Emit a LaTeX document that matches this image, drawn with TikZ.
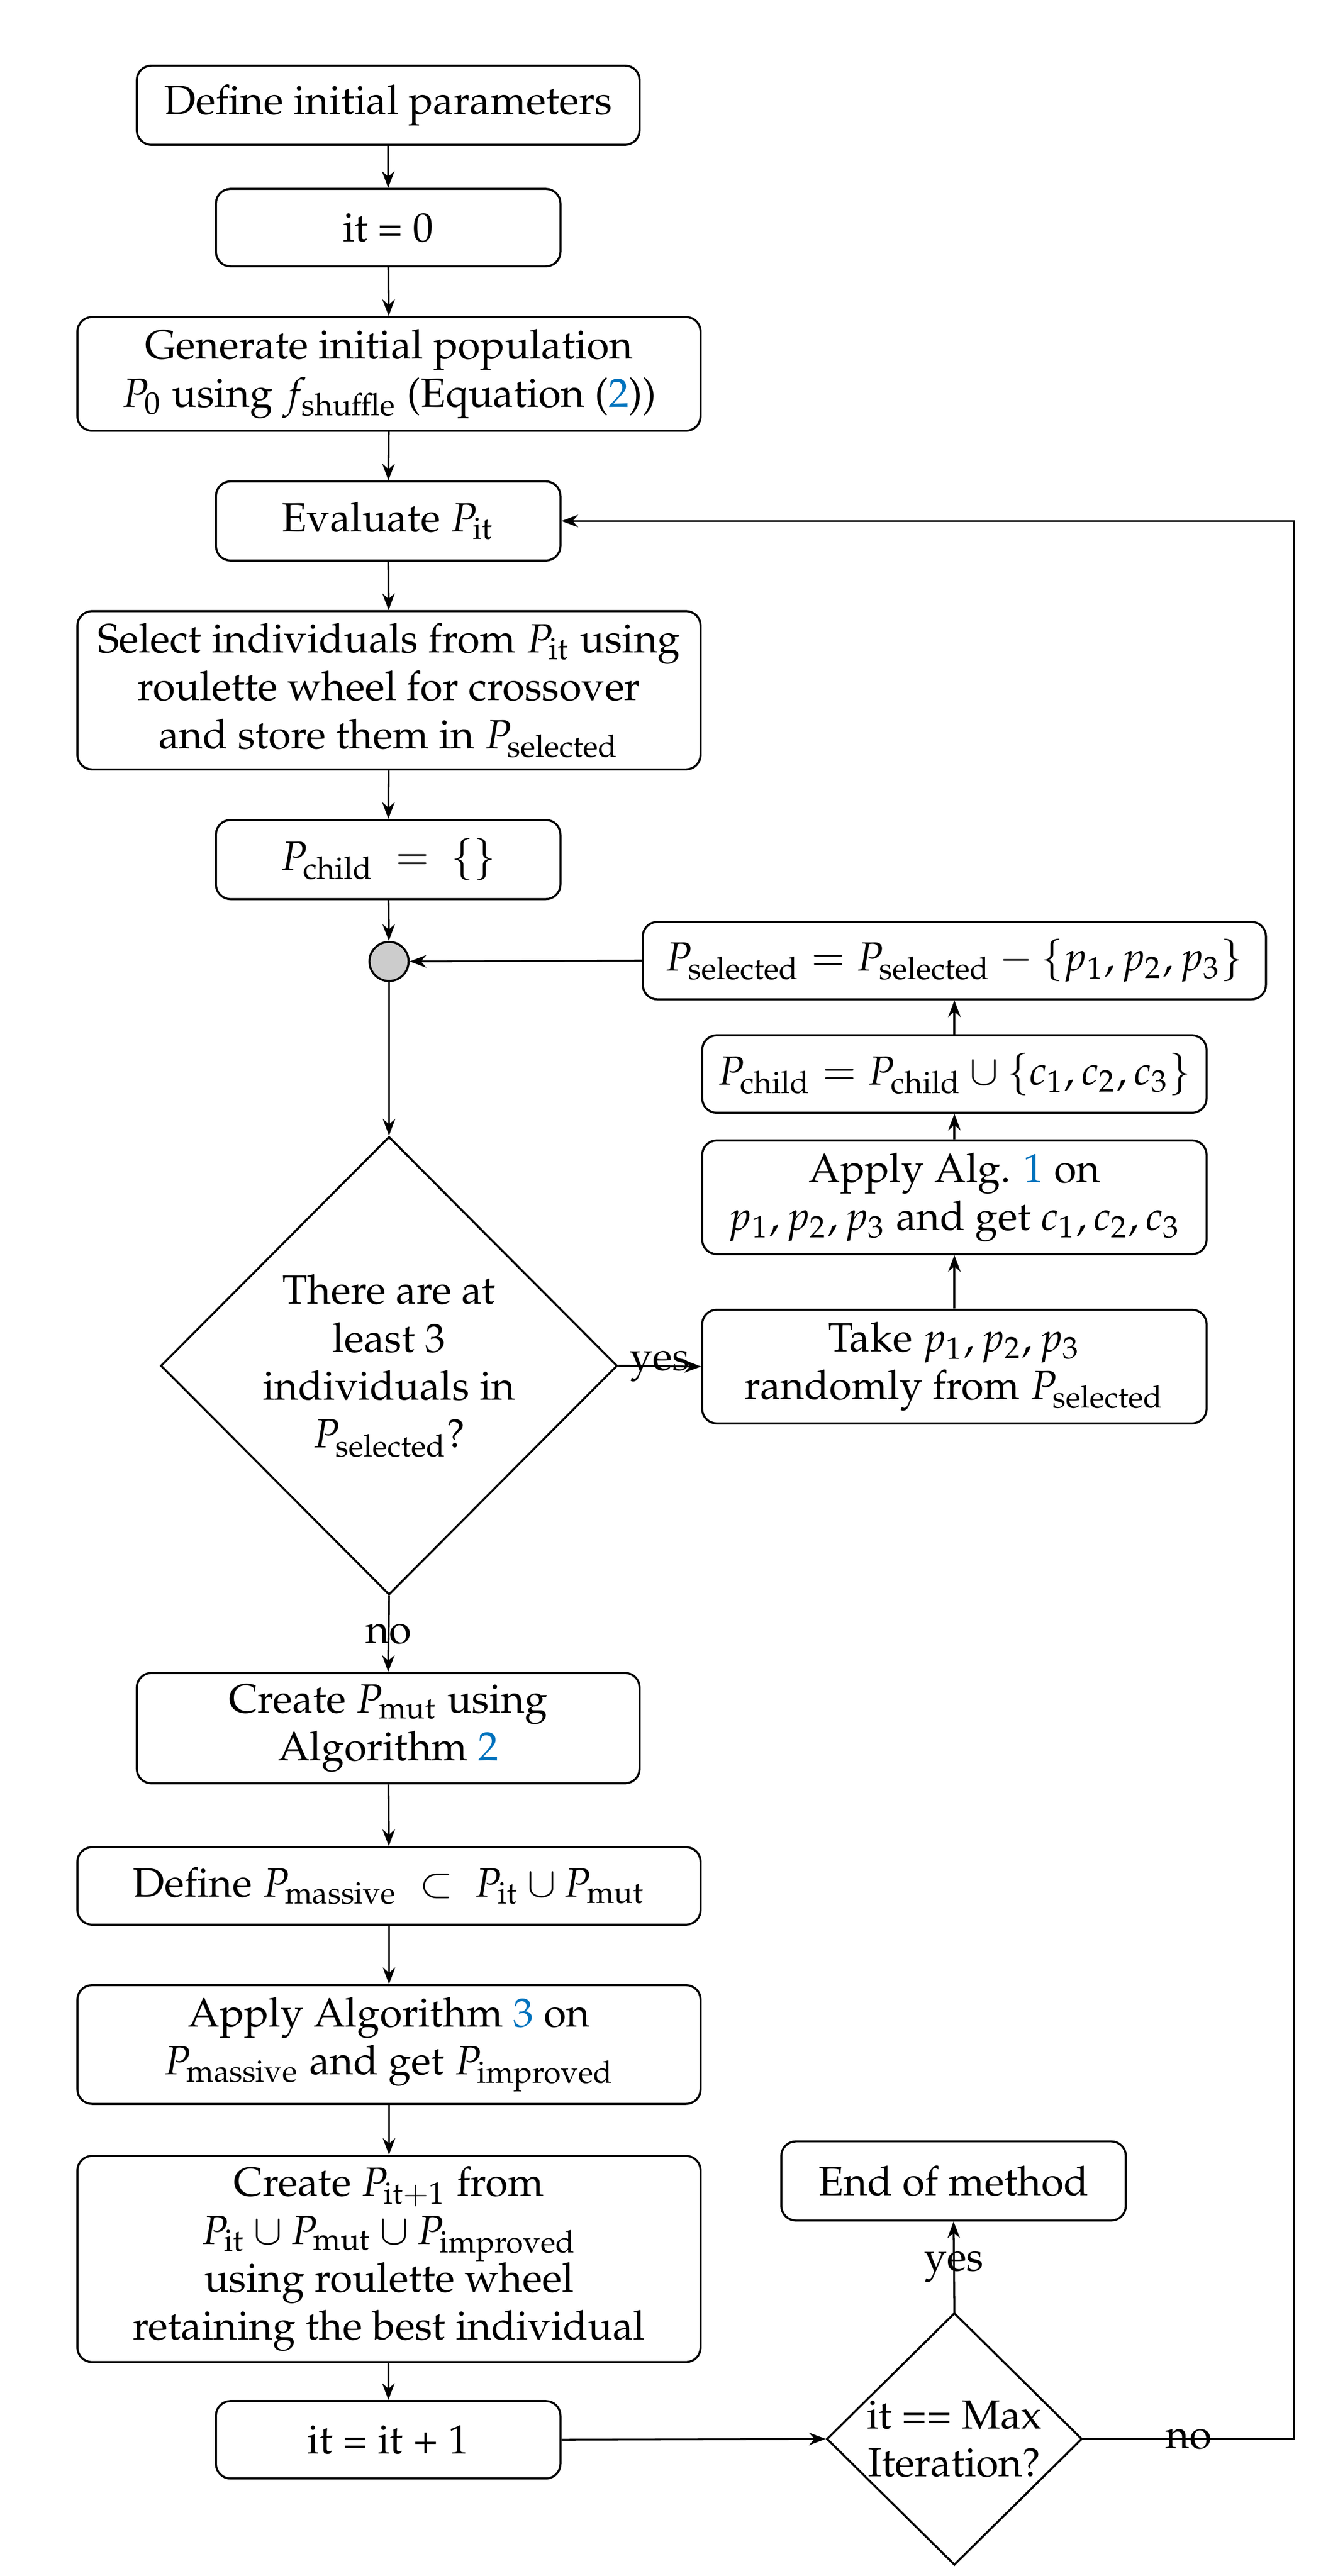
\documentclass[tikz,border=0pt]{standalone}
\usepackage[T1]{fontenc}
\usepackage{mathpazo}
\usetikzlibrary{shapes.geometric, arrows.meta}
\definecolor{refblue}{RGB}{0,114,189}
\begin{document}
\begin{tikzpicture}[x=0.3957pt, y=-0.3957pt,
  every node/.style={font=\fontsize{9.8}{11.5}\selectfont},
  box/.style={draw, rounded corners=3.5pt, align=center, inner sep=0pt, line width=0.5pt},
  arr/.style={-{Stealth[length=4pt,width=3pt]}, line width=0.45pt},
  dia/.style={draw, diamond, align=center, inner sep=0pt, line width=0.5pt}]
\useasboundingbox (0,0) rectangle (808.7,1563);
\begin{scope}[yscale=0.9972]
\node[box, minimum width=120.7pt, minimum height=19pt] (n1) at (235.5,64) {Define initial parameters};
\node[box, minimum width=82.7pt, minimum height=18.6pt] (n2) at (235.5,138.5) {it = 0};
\node[box, minimum width=149.6pt, minimum height=27.3pt] (n3) at (236,227.5) {Generate initial population\\ $P_0$ using $f_{\mathrm{shuffle}}$ (Equation (\textcolor{refblue}{2}))};
\node[box, minimum width=82.7pt, minimum height=19pt] (n4) at (235.5,317) {Evaluate $P_{\mathrm{it}}$};
\node[box, minimum width=149.6pt, minimum height=38pt] (n5) at (236,420) {Select individuals from $P_{\mathrm{it}}$ using\\ roulette wheel for crossover\\ and store them in $P_{\mathrm{selected}}$};
\node[box, minimum width=82.7pt, minimum height=19pt] (n6) at (235.5,523) {$P_{\mathrm{child}}\ =\ \{\}$};
\node[draw, circle, fill=gray!40, minimum size=9.4pt, inner sep=0pt, line width=0.5pt] (circ) at (236,585) {};
\node[dia, minimum width=109.6pt, minimum height=110pt] (d1) at (236,831) {There are at\\ least 3\\ individuals in\\ $P_{\mathrm{selected}}$?};
\node[box, minimum width=121.1pt, minimum height=27.3pt] (take) at (579,831.5) {Take $p_1, p_2, p_3$\\ randomly from $P_{\mathrm{selected}}$};
\node[box, minimum width=121.1pt, minimum height=27.3pt] (apply) at (579,728.5) {Apply Alg. \textcolor{refblue}{1} on\\ $p_1, p_2, p_3$ and get $c_1, c_2, c_3$};
\node[box, minimum width=121.1pt, minimum height=18.6pt] (pch) at (579,653.5) {$P_{\mathrm{child}} = P_{\mathrm{child}} \cup \{c_1, c_2, c_3\}$};
\node[box, minimum width=149.6pt, minimum height=18.6pt] (psel) at (579,584.5) {$P_{\mathrm{selected}} = P_{\mathrm{selected}} - \{p_1, p_2, p_3\}$};
\node[box, minimum width=120.7pt, minimum height=26.5pt] (mut) at (235.5,1051.5) {Create $P_{\mathrm{mut}}$ using\\ Algorithm \textcolor{refblue}{2}};
\node[box, minimum width=149.6pt, minimum height=18.6pt] (mass) at (236,1147.5) {Define $P_{\mathrm{massive}}\ \subset\ P_{\mathrm{it}} \cup P_{\mathrm{mut}}$};
\node[box, minimum width=149.6pt, minimum height=28.5pt] (alg3) at (236,1244) {Apply Algorithm \textcolor{refblue}{3} on\\ $P_{\mathrm{massive}}$ and get $P_{\mathrm{improved}}$};
\node[box, minimum width=149.6pt, minimum height=49.5pt] (next) at (236,1374.5) {Create $P_{\mathrm{it}+1}$ from\\ $P_{\mathrm{it}} \cup P_{\mathrm{mut}} \cup P_{\mathrm{improved}}$\\ using roulette wheel\\ retaining the best individual};
\node[box, minimum width=82.7pt, minimum height=18.6pt] (inc) at (235.5,1484.5) {it = it + 1};
\node[dia, minimum width=61.3pt, minimum height=60.1pt] (d2) at (579,1484) {it == Max\\ Iteration?};
\node[box, minimum width=82.7pt, minimum height=19pt] (fin) at (578.5,1327) {End of method};
\coordinate (lc) at (785,1484);

\draw[arr] (n1) -- (n2);
\draw[arr] (n2) -- (n3);
\draw[arr] (n3) -- (n4);
\draw[arr] (n4) -- (n5);
\draw[arr] (n5) -- (n6);
\draw[arr] (n6) -- (circ);
\draw[arr] (circ) -- (d1);
\draw[arr] (d1.east) -- node{yes} (take.west);
\draw[arr] (take) -- (apply);
\draw[arr] (apply) -- (pch);
\draw[arr] (pch) -- (psel);
\draw[arr] (psel.west) -- (circ.east);
\draw[arr] (d1.south) -- node{no} (mut.north);
\draw[arr] (mut) -- (mass);
\draw[arr] (mass) -- (alg3);
\draw[arr] (alg3) -- (next);
\draw[arr] (next) -- (inc);
\draw[arr] (inc.east) -- (d2.west);
\draw[arr] (d2.north) -- node{yes} (fin.south);
\draw[arr] (d2.east) -- node{no} (lc) |- (n4.east);
\end{scope}
\end{tikzpicture}
\end{document}
